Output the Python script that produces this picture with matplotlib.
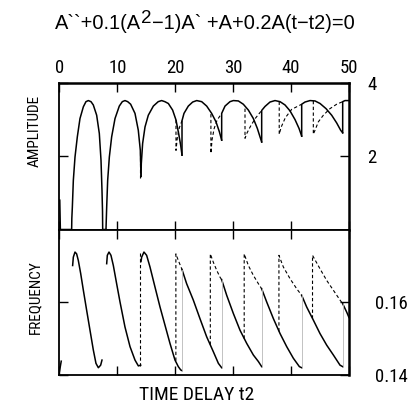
import matplotlib
matplotlib.use('Agg')
import matplotlib.pyplot as plt

plt.rcParams['font.family'] = ['Liberation Sans', 'DejaVu Sans']
narrow = ['Roboto Condensed', 'Liberation Sans Narrow', 'Liberation Sans']

# amplitude branches (stable = solid), t2 vs A
amp_solid_t = [
    [0.05, 0.15],
    [0.0, 2.1, 2.13, 2.22, 2.39, 2.68, 3.08, 3.54, 4.12, 4.57, 4.98, 5.44, 5.84, 6.42, 6.88, 7.17, 7.34, 7.43, 7.46, 8.03],
    [8.03, 8.15, 8.32, 8.61, 9.01, 9.59, 10.33, 10.85, 11.31, 11.78, 12.29, 13.04, 13.61, 13.96, 14.08],
    [14.08, 14.13, 14.36, 14.77, 15.34, 16.21, 17.05, 17.64, 18.2, 18.8, 19.54, 20.12, 20.58, 20.93, 21.16],
    [21.16, 21.16, 21.5, 22.25, 23.0, 23.7, 24.56, 25.42, 26.28, 27.03, 27.61, 28.01],
    [28.01, 28.01, 28.59, 29.45, 30.03, 30.89, 31.75, 32.62, 33.48, 34.17, 34.63, 34.92],
    [34.92, 34.92, 35.5, 36.36, 37.22, 38.09, 38.95, 39.81, 40.68, 41.37, 41.83],
    [41.83, 41.83, 42.4, 43.27, 44.13, 45.0, 46.03, 47.01, 47.87, 48.56, 48.91],
    [48.91, 48.91, 49.31, 50.0],
]
amp_solid_v = [
    [0.8, 0.0],
    [0, 0, 0.3, 0.61, 1.34, 1.98, 2.53, 3.03, 3.35, 3.49, 3.52, 3.49, 3.40, 3.12, 2.62, 1.89, 1.07, 0.5, 0, 0],
    [0, 0.61, 1.34, 1.98, 2.53, 3.03, 3.37, 3.49, 3.52, 3.49, 3.42, 3.17, 2.71, 2.16, 1.45],
    [1.45, 1.80, 2.35, 2.80, 3.12, 3.37, 3.49, 3.52, 3.49, 3.44, 3.26, 2.99, 2.62, 2.30, 2.03],
    [2.03, 2.97, 3.17, 3.37, 3.48, 3.52, 3.49, 3.37, 3.17, 2.94, 2.67, 2.44],
    [2.44, 3.17, 3.37, 3.49, 3.52, 3.51, 3.42, 3.26, 3.03, 2.76, 2.53, 2.39],
    [2.39, 3.25, 3.36, 3.48, 3.52, 3.49, 3.40, 3.24, 3.0, 2.76, 2.55],
    [2.55, 3.42, 3.48, 3.52, 3.51, 3.44, 3.30, 3.12, 2.91, 2.71, 2.64],
    [2.64, 3.49, 3.52, 3.52],
]
# unstable parts (dashed)
amp_dash_t = [
    [13.95, 13.95],
    [20.12, 20.12, 20.35, 20.7, 21.16],
    [26.15, 26.15, 26.35, 26.7, 27.2, 28.01],
    [32.04, 32.04, 32.4, 33.0, 33.8, 34.92],
    [37.95, 37.95, 38.3, 39.0, 40.1, 41.83],
    [43.84, 43.84, 44.13, 44.71, 45.57, 46.72, 47.87, 48.91],
]
amp_dash_v = [
    [2.12, 1.40],
    [2.99, 2.16, 2.5, 2.78, 2.97],
    [3.15, 2.08, 2.45, 2.75, 2.98, 3.17],
    [3.30, 2.49, 2.64, 2.82, 3.03, 3.25],
    [3.49, 2.60, 2.80, 3.05, 3.28, 3.42],
    [3.51, 2.60, 2.71, 2.94, 3.12, 3.30, 3.42, 3.49],
]

# frequency branches
frq_solid_t = [
    [0.0, 0.3],
    [2.27, 2.39, 2.68, 2.96, 3.25, 3.66, 4.12, 4.69, 5.27, 5.84, 6.30, 6.71, 7.11, 7.34],
    [8.15, 8.26, 8.55, 8.89, 9.3, 9.87, 10.45, 11.31, 12.18, 13.04, 13.62, 14.02],
    [14.08, 14.19, 14.59, 15.05, 15.63, 16.49, 17.36, 18.22, 19.08, 19.95, 20.52, 20.93, 21.16],
    [21.16, 21.96, 23.11, 24.26, 25.42, 26.57, 27.44, 28.01],
    [28.01, 28.88, 30.03, 31.18, 32.33, 33.48, 34.35, 34.92],
    [34.92, 35.78, 36.94, 38.09, 39.24, 40.39, 41.43, 41.83],
    [41.83, 42.69, 43.84, 44.99, 46.15, 47.3, 48.45, 48.91],
    [48.91, 49.6, 50.0],
]
frq_solid_v = [
    [0.1410, 0.1438],
    [0.1701, 0.1724, 0.1738, 0.1733, 0.1715, 0.1679, 0.1633, 0.1578, 0.1523, 0.1469, 0.1432, 0.1420, 0.1427, 0.1441],
    [0.1706, 0.1729, 0.1738, 0.1729, 0.1701, 0.1651, 0.1601, 0.1532, 0.1478, 0.1441, 0.1425, 0.1427],
    [0.1712, 0.1724, 0.1738, 0.1729, 0.1697, 0.1642, 0.1587, 0.1537, 0.1487, 0.1441, 0.1423, 0.1414, 0.1412],
    [0.1690, 0.1651, 0.1606, 0.1555, 0.1505, 0.1464, 0.1432, 0.1420],
    [0.1662, 0.1619, 0.1569, 0.1523, 0.1487, 0.1455, 0.1437, 0.1423],
    [0.1637, 0.1601, 0.1555, 0.1514, 0.1478, 0.1446, 0.1423, 0.1420],
    [0.1619, 0.1587, 0.1551, 0.1514, 0.1482, 0.1455, 0.1427, 0.1423],
    [0.1596, 0.1573, 0.1558],
]
frq_dash_t = [
    [13.95, 13.95],
    [20.1, 20.1, 20.52, 21.16],
    [26.05, 26.05, 26.57, 27.15, 27.72, 28.01],
    [31.9, 31.9, 32.62, 33.48, 34.35, 34.92],
    [37.9, 37.9, 38.66, 39.81, 40.97, 41.83],
    [43.7, 43.7, 44.99, 46.15, 47.3, 48.45, 48.91],
]
frq_dash_v = [
    [0.1425, 0.1735],
    [0.1439, 0.1733, 0.1715, 0.1690],
    [0.1483, 0.1733, 0.1710, 0.1688, 0.1669, 0.1662],
    [0.1500, 0.1733, 0.1701, 0.1674, 0.1651, 0.1637],
    [0.1520, 0.1729, 0.1697, 0.1665, 0.1637, 0.1619],
    [0.1555, 0.1729, 0.1692, 0.1660, 0.1633, 0.1606, 0.1596],
]

x_ticks = [0, 10, 20, 30, 40, 50]

fig = plt.figure(figsize=(4.1, 4.08), dpi=100)
ax1 = fig.add_axes([0.1451, 0.4375, 0.7061, 0.3591])
ax2 = fig.add_axes([0.1451, 0.0809, 0.7061, 0.3566])

dash = (0, (3.0, 2.2))
for t, v in zip(amp_solid_t, amp_solid_v):
    ax1.plot(t, v, color='k', lw=1.1, clip_on=False, solid_joinstyle='round')
for t, v in zip(amp_dash_t, amp_dash_v):
    ax1.plot(t, v, color='k', lw=0.8, linestyle=dash)

for t, v in zip(frq_solid_t, frq_solid_v):
    ax2.plot(t, v, color='k', lw=1.1, solid_joinstyle='round')
for t, v in zip(frq_dash_t, frq_dash_v):
    ax2.plot(t, v, color='k', lw=0.8, linestyle=dash)
# faint jump lines between consecutive frequency branches
for k in range(4, len(frq_solid_t)):
    tj = frq_solid_t[k][0]
    ax2.plot([tj, tj], [frq_solid_v[k - 1][-1], frq_solid_v[k][0]],
             color='0.72', lw=0.6)

ax1.set_xlim(0, 50)
ax1.set_ylim(0, 4)
ax2.set_xlim(0, 50)
ax2.set_ylim(0.14, 0.18)

for ax in (ax1, ax2):
    ax.set_xticks(x_ticks)
    for s in ax.spines.values():
        s.set_linewidth(1.3)
    ax.spines['right'].set_linewidth(1.8)
    ax.tick_params(axis='both', direction='in', length=6.5, width=1.0,
                   labelsize=13.5, top=True, bottom=True, left=True, right=True,
                   labelleft=False)
ax1.spines['top'].set_linewidth(1.8)

ax1.set_yticks([2, 4])
ax1.set_yticklabels(['2', '4'])
ax1.tick_params(axis='x', labeltop=True, labelbottom=False, pad=4)
ax1.tick_params(axis='y', labelright=True, pad=13)

ax2.set_yticks([0.14, 0.16])
ax2.set_yticklabels(['0.14', '0.16'])
ax2.tick_params(axis='x', labeltop=False, labelbottom=False)
ax2.tick_params(axis='y', labelright=True, pad=19)

for lab in ax1.get_xticklabels() + ax1.get_yticklabels() + ax2.get_yticklabels():
    lab.set_family(narrow)

fig.text(0.085, 0.679, 'AMPLITUDE', rotation=90, ha='center', va='center',
         fontsize=11, family=narrow)
fig.text(0.085, 0.272, 'FREQUENCY', rotation=90, ha='center', va='center',
         fontsize=11, family=narrow)
fig.text(0.48, 0.032, 'TIME DELAY t2', ha='center', va='center', fontsize=14,
         family=narrow)

# equation title, superscript drawn as its own raised piece
t1 = fig.text(0.134, 0.93, 'A``+0.1(A', ha='left', va='baseline', fontsize=14.4)
sup = ax1.annotate('2', xy=(1.0, 0.27), xycoords=t1, ha='left', va='bottom',
                   fontsize=13.5, annotation_clip=False)
ax1.annotate('\u22121)A` +A+0.2A(t\u2212t2)=0', xy=(1.0, 0.0), xycoords=(sup, t1),
             ha='left', va='bottom', fontsize=14.4, annotation_clip=False)

fig.savefig('out.png', dpi=100)
